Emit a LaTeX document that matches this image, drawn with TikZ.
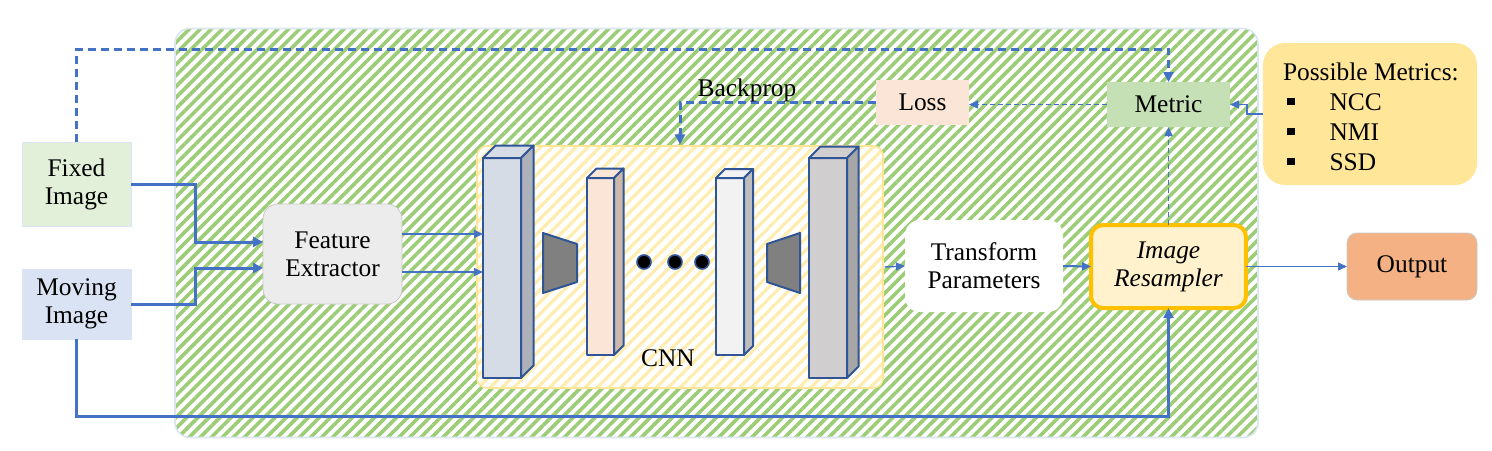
\documentclass[tikz,border=0pt]{standalone}
\usepackage{fontspec}
\setmainfont{Liberation Serif}
\usetikzlibrary{arrows.meta,patterns.meta}

\definecolor{lineblue}{RGB}{68,114,196}
\definecolor{layerblue}{RGB}{47,85,151}
\definecolor{hatchgreen}{RGB}{156,204,118}
\definecolor{framegray}{RGB}{218,230,242}
\definecolor{cnnyellow}{RGB}{255,236,175}
\definecolor{cnnborder}{RGB}{255,230,150}
\definecolor{fixedgreen}{RGB}{226,240,217}
\definecolor{movingblue}{RGB}{218,227,243}
\definecolor{boxline}{RGB}{218,228,245}
\definecolor{featgray}{RGB}{236,236,236}
\definecolor{featline}{RGB}{200,200,200}
\definecolor{resampfill}{RGB}{255,242,204}
\definecolor{resampline}{RGB}{255,192,0}
\definecolor{outputfill}{RGB}{244,177,131}
\definecolor{lossfill}{RGB}{251,229,214}
\definecolor{metricfill}{RGB}{197,224,180}
\definecolor{possfill}{RGB}{255,230,153}
\definecolor{trapgray}{RGB}{128,128,128}
\definecolor{lafront}{RGB}{214,220,229}
\definecolor{laside}{RGB}{172,177,186}
\definecolor{lbfront}{RGB}{251,229,214}
\definecolor{lbside}{RGB}{205,185,170}
\definecolor{lcfront}{RGB}{242,242,242}
\definecolor{lcside}{RGB}{190,190,190}
\definecolor{ldfront}{RGB}{208,206,206}
\definecolor{ldside}{RGB}{166,166,166}

\tikzset{
  box/.style={inner sep=0pt, outer sep=0pt, align=center, font=\fontsize{12.7}{14}\selectfont},
  thickline/.style={draw=lineblue, line width=1.5pt, >={Triangle[length=5pt,width=5pt]}},
  thinline/.style={draw=lineblue, line width=0.7pt, >={Triangle[length=4.5pt,width=4pt]}},
  dashthick/.style={thickline, dash pattern=on 4pt off 2.5pt},
  dashthin/.style={thinline, dash pattern=on 2.5pt off 1.5pt},
  layer/.style={draw=layerblue, line width=1pt, inner sep=0pt, outer sep=0pt, line join=round},
}

\begin{document}
\begin{tikzpicture}[x=0.5pt,y=-0.5pt]
\useasboundingbox (0,0) rectangle (1492,450);

% hatched frame and cnn block
\node (frame) [draw=framegray, line width=0.8pt, rounded corners=7.5pt, pattern={Lines[angle=45,distance=3.9pt,line width=1.8pt]}, pattern color=hatchgreen, minimum width=541.5pt, minimum height=204.5pt] at (716.5,233) {};
\node (cnn) [draw=cnnborder, line width=0.8pt, rounded corners=5pt, preaction={fill=white}, pattern={Lines[angle=45,distance=4.2pt,line width=1.6pt]}, pattern color=cnnyellow, minimum width=203pt, minimum height=121pt] at (680,267) {};
\node (cnnlabel) [box] at (668,358) {CNN};

% layers
\foreach \i/\cx/\cy/\w/\h/\d/\c/\s in {1/502/268/19/110/12.5/lafront/laside, 2/600.5/266.5/13.5/88.5/9.5/lbfront/lbside, 3/730/266.5/14/88.5/9/lcfront/lcside, 4/828/268/19/110/11.5/ldfront/ldside}{
  \node (l\i) [layer, fill=\c, minimum width=\w pt, minimum height=\h pt] at (\cx,\cy) {};
  \draw[layer, fill=\c] (l\i.north west) -- ++(\d,-\d) -- ([shift={(\d,-\d)}]l\i.north east) -- (l\i.north east) -- cycle;
  \draw[layer, fill=\s] (l\i.north east) -- ++(\d,-\d) -- ([shift={(\d,-\d)}]l\i.south east) -- (l\i.south east) -- cycle;
}
\draw[layer, fill=trapgray] (543,233) -- (577,244) -- (577,282) -- (543,293) -- cycle;
\draw[layer, fill=trapgray] (767,244) -- (800,233) -- (800,293) -- (767,282) -- cycle;
\foreach \x in {644,675,702}{\fill[draw=layerblue, fill=black, line width=0.8pt] (\x,262) circle (7);}

% boxes
\node (fixed) [box, fill=fixedgreen, draw=boxline, minimum width=54.5pt, minimum height=42pt] at (76.5,184) {Fixed\\Image};
\node (moving) [box, fill=movingblue, draw=boxline, minimum width=54.5pt, minimum height=35pt] at (76.5,304) {Moving\\Image};
\node (feat) [box, fill=featgray, draw=featline, rounded corners=7.5pt, minimum width=69.5pt, minimum height=50pt] at (332.5,254) {Feature\\Extractor};
\node (trans) [box, fill=white, rounded corners=7.5pt, minimum width=79pt, minimum height=46pt] at (984,266) {Transform\\Parameters};
\node (resamp) [box, fill=resampfill, draw=resampline, line width=2pt, rounded corners=6pt, minimum width=77.5pt, minimum height=41.5pt, font=\fontsize{12.7}{14}\selectfont\itshape] at (1168.5,266.5) {Image\\Resampler};
\node (output) [box, fill=outputfill, draw=featline, rounded corners=5pt, minimum width=65pt, minimum height=33.5pt] at (1412,266.5) {Output};
\node (loss) [box, fill=lossfill, minimum width=46.5pt, minimum height=22.5pt] at (922.5,102.5) {Loss};
\node (metric) [box, fill=metricfill, minimum width=61.5pt, minimum height=22.5pt] at (1168.5,104.5) {Metric};
\node (possible) [box, fill=possfill, rounded corners=11pt, minimum width=107pt, minimum height=71pt] at (1370,114) {};
\node (posstext) [box, align=left, anchor=north west, font=\fontsize{12.7}{15}\selectfont] at (1283,63) {Possible Metrics:\\
  \hspace*{2pt}\raisebox{2.6pt}{\rule{3.8pt}{3.8pt}}\hspace{17.5pt}NCC\\
  \hspace*{2pt}\raisebox{2.6pt}{\rule{3.8pt}{3.8pt}}\hspace{17.5pt}NMI\\
  \hspace*{2pt}\raisebox{2.6pt}{\rule{3.8pt}{3.8pt}}\hspace{17.5pt}SSD};

% connectors
\draw[->, thickline] (fixed.east) -- ++(64,0) |- ([yshift=6pt]feat.west);
\draw[->, thickline] (moving.east) -- ++(64,0) |- ([yshift=-7pt]feat.west);
\draw[->, thinline] ([yshift=10pt]feat.east) -- ([yshift=10pt]feat.east -| l1.west);
\draw[->, thinline] ([yshift=-9pt]feat.east) -- ([yshift=-9pt]feat.east -| l1.west);
\draw[->, thinline] (cnn.east) -- (trans.west);
\draw[->, thinline, line width=1pt] (trans.east) -- (resamp.west);
\draw[->, thinline] (resamp.east) -- (output.west);
\draw[->, dashthin] (resamp.north) -- (metric.south);
\draw[->, dashthin] (metric.west) -- (metric.west -| loss.east);
\draw[->, dashthick] (loss.west) -| (cnn.north);
\node (backprop) [box] at (747,90) {Backprop};
\draw[->, thinline] (possible.west) -- ++(-16,0) |- (metric.east);
\draw[->, dashthick] (fixed.north) -- ++(0,-93) -| (metric.north);
\draw[->, thickline] (moving.south) -- ++(0,77) -| (resamp.south);
\end{tikzpicture}
\end{document}
